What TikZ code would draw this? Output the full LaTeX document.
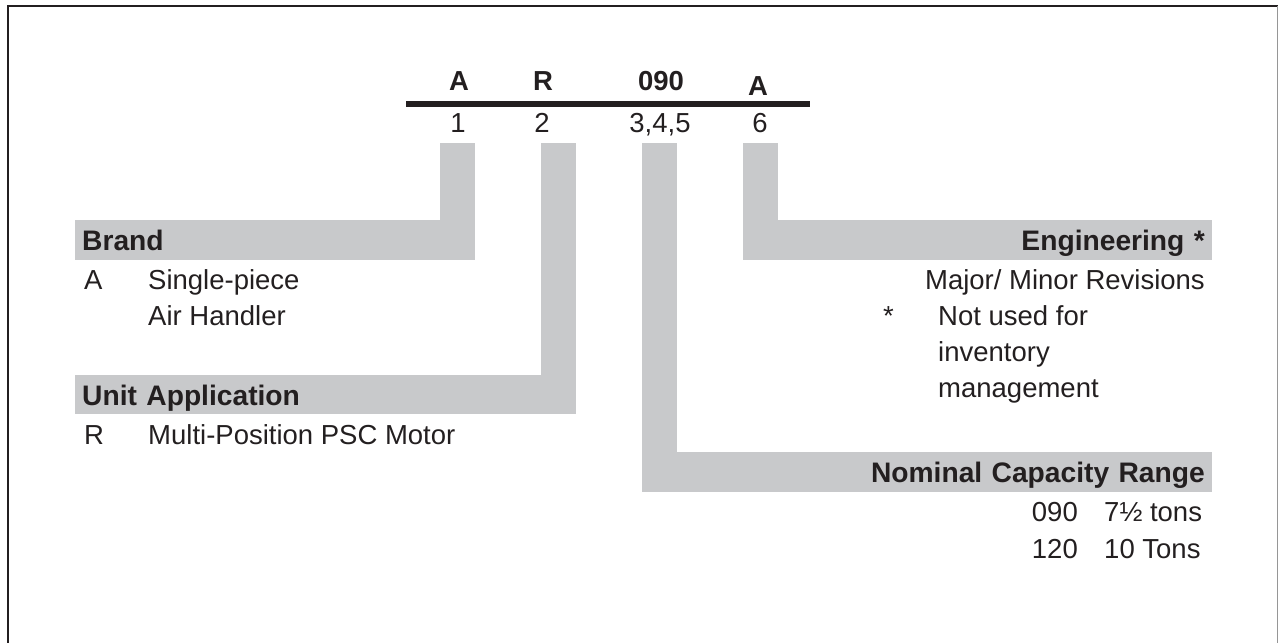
\documentclass[tikz,border=0pt]{standalone}
\usepackage{fontspec}
\setmainfont{Liberation Sans}
\definecolor{barg}{RGB}{200,201,203}
\definecolor{ink}{RGB}{35,31,32}
\definecolor{rim}{RGB}{150,150,150}
\newcommand{\fs}{\fontsize{27.5}{33}\selectfont}
\newcommand{\fh}{\fontsize{28.2}{33}\selectfont}
\begin{document}
\begin{tikzpicture}[x=1pt,y=-1pt,
  every node/.style={inner sep=0pt, text=ink, font=\fs},
  hdr/.style={fill=barg, font=\fh\bfseries, text height=24pt, text depth=3pt, inner xsep=7pt, inner ysep=0pt},
  conn/.style={draw=barg, line width=35pt, shorten >=-1pt},
  lbl/.style={anchor=base west},
  rlbl/.style={anchor=base east},
  codetxt/.style={anchor=base, font=\fs\bfseries},
  postxt/.style={anchor=base}]
\useasboundingbox (0,0) rectangle (1278,643);
% frame
\draw[line width=2.3pt, draw=ink] (8,643) -- (8,6) -- (1278,6);
\draw[line width=1pt, draw=rim] (1277,6) -- (1277,643);
% code line
\coordinate (barL) at (406,104);
\coordinate (barR) at (810,104);
\draw[line width=6pt, draw=ink] (barL) -- (barR);
\node[codetxt] (cA) at (459,90) {A};
\node[codetxt] (cR) at (543,90) {R};
\node[codetxt] (c090) at (661,90) {090};
\node[codetxt] (cA2) at (758,95) {A};
\node[postxt] (d1) at (458,132) {1};
\node[postxt] (d2) at (542,132) {2};
\node[postxt] (d3) at (660,132) {3,4,5};
\node[postxt] (d6) at (760,132) {6};
% headers
\node[hdr, anchor=north west, minimum height=40pt, text width=386pt, align=left] (brand) at (75,220) {Brand};
\node[hdr, anchor=north west, minimum height=39pt, text width=487pt, align=left] (unit) at (75,375) {Unit Application};
\node[hdr, anchor=north east, minimum height=40pt, text width=455pt, align=right] (eng) at (1212,220) {Engineering *};
\node[hdr, anchor=north east, minimum height=40pt, text width=556pt, align=right] (nom) at (1212,452) {Nominal Capacity Range};
% connectors
\coordinate (t1) at (457.5,143);
\coordinate (t2) at (558.5,143);
\coordinate (t3) at (659.5,143);
\coordinate (t4) at (760.5,143);
\draw[conn] (t1) -- (t1 |- brand.north);
\draw[conn] (t2) -- (t2 |- unit.north);
\draw[conn] (t3) -- (t3 |- nom.north);
\draw[conn] (t4) -- (t4 |- eng.north);
% brand
\node[lbl] (bA) at (84,289) {A};
\node[lbl] (bA1) at (148,289) {Single-piece};
\node[lbl] (bA2) at (148,325) {Air Handler};
% unit
\node[lbl] (uR) at (84,444) {R};
\node[lbl] (uR1) at (148,444) {Multi-Position PSC Motor};
% engineering
\node[rlbl] (e1) at (1205,289) {Major/ Minor Revisions};
\node[lbl] (eS) at (883,325) {*};
\node[lbl] (e2) at (938,325) {Not used for};
\node[lbl] (e3) at (938,361) {inventory};
\node[lbl] (e4) at (938,397) {management};
% nominal
\node[rlbl] (n1) at (1078,521) {090};
\node[lbl] (n1t) at (1104,521) {7½ tons};
\node[rlbl] (n2) at (1078,558) {120};
\node[lbl] (n2t) at (1104,558) {10 Tons};
\end{tikzpicture}
\end{document}
